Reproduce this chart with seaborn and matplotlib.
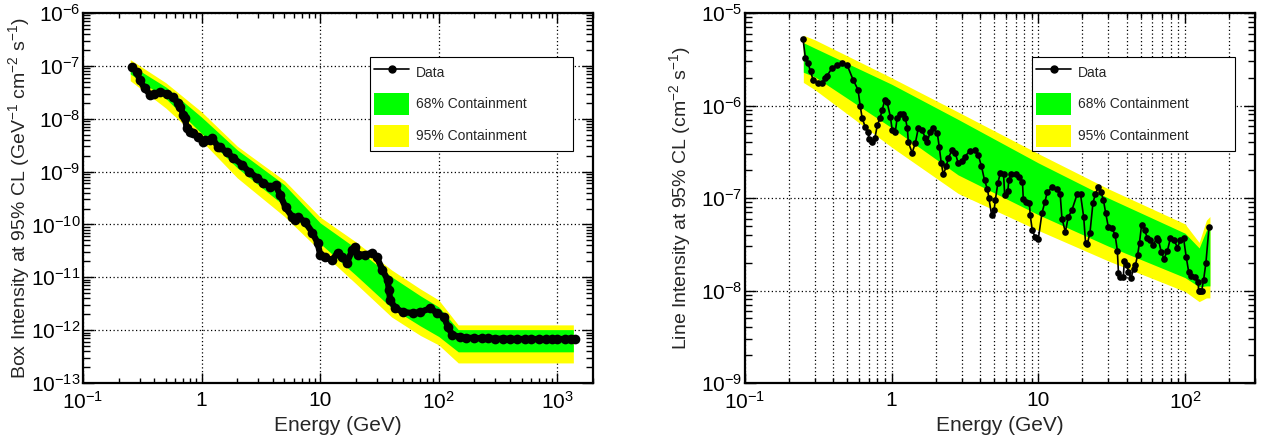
import numpy as np
import pandas as pd
import matplotlib
matplotlib.use("Agg")
import matplotlib.pyplot as plt
import seaborn as sns
from matplotlib.ticker import (LogLocator, NullFormatter, FixedLocator, FixedFormatter,
                               LogFormatterSciNotation)
from matplotlib.lines import Line2D
from matplotlib.patches import Patch

# ---- box search (left panel) ----
box_energy = [0.259, 0.285, 0.30, 0.33, 0.37, 0.40, 0.45, 0.51, 0.57, 0.63, 0.66, 0.70, 0.72,
              0.75, 0.80, 0.85, 0.93, 1.03, 1.07, 1.18, 1.23, 1.38, 1.43, 1.64, 1.85, 2.2,
              2.5, 2.95, 3.3, 3.8, 4.2, 4.6, 5.1, 5.8, 6.1, 6.5, 7.5, 8.6, 9.5, 10.0, 11.0,
              12.6, 14.0, 15.4, 16.8, 18.7, 19.6, 21.0, 23.9, 27.5, 30.0, 33.5, 37.0, 38.0,
              39.0, 43.0, 50.0, 61.0, 70.0, 85.0, 97.0, 110, 120, 130, 150, 170, 200, 230,
              260, 300, 350, 400, 460, 530, 600, 700, 800, 900, 1000, 1150, 1300, 1400]
box_limit = [9.5e-8, 7.7e-8, 5.4e-8, 3.8e-8, 2.8e-8, 3.0e-8, 3.2e-8, 3.0e-8, 2.6e-8, 2.0e-8,
             1.7e-8, 1.2e-8, 1.05e-8, 6.7e-9, 5.6e-9, 5.4e-9, 4.5e-9, 3.6e-9, 3.9e-9, 3.9e-9,
             4.3e-9, 2.9e-9, 2.9e-9, 2.3e-9, 1.8e-9, 1.35e-9, 1.0e-9, 7.6e-10, 6.1e-10,
             5.1e-10, 5.6e-10, 3.6e-10, 2.1e-10, 1.4e-10, 1.2e-10, 1.4e-10, 1.1e-10, 7.0e-11,
             4.5e-11, 2.7e-11, 2.4e-11, 2.1e-11, 2.9e-11, 2.4e-11, 1.9e-11, 3.3e-11, 3.7e-11,
             2.7e-11, 2.7e-11, 2.9e-11, 2.4e-11, 1.4e-11, 8.9e-12, 5.8e-12, 3.7e-12, 2.6e-12,
             2.2e-12, 2.1e-12, 2.2e-12, 2.6e-12, 2.1e-12, 1.8e-12, 1.15e-12, 8.1e-13, 7.5e-13,
             7.2e-13, 7.1e-13, 7.0e-13, 7.0e-13, 6.9e-13, 6.9e-13, 6.9e-13, 6.8e-13, 6.8e-13,
             6.8e-13, 6.8e-13, 6.8e-13, 6.8e-13, 6.8e-13, 6.8e-13, 6.9e-13, 6.9e-13]

# band edges, log10 of intensity
box_band_energy = [0.25, 0.5, 1, 2, 5, 10, 20, 40, 70, 100, 146, 1365]
box_lo95 = [-7.28, -7.80, -8.42, -9.12, -9.85, -10.50, -11.12, -11.75, -12.10, -12.28, -12.62, -12.62]
box_lo68 = [-7.15, -7.62, -8.28, -8.93, -9.65, -10.36, -10.96, -11.58, -11.92, -12.12, -12.41, -12.41]
box_hi68 = [-6.98, -7.40, -7.97, -8.59, -9.25, -9.97, -10.45, -10.99, -11.35, -11.56, -11.99, -11.99]
box_hi95 = [-6.88, -7.32, -7.87, -8.52, -9.17, -9.86, -10.33, -10.86, -11.22, -11.43, -11.90, -11.90]

# ---- line search (right panel) ----
line_energy = [0.249, 0.258, 0.268, 0.280, 0.291, 0.315, 0.335, 0.352, 0.363, 0.393, 0.425,
               0.459, 0.497, 0.546, 0.59, 0.61, 0.63, 0.66, 0.69, 0.70, 0.74, 0.77, 0.80,
               0.835, 0.86, 0.90, 0.93, 0.98, 1.01, 1.06, 1.09, 1.14, 1.20, 1.24, 1.28, 1.30,
               1.38, 1.45, 1.52, 1.62, 1.69, 1.75, 1.83, 1.92, 2.05, 2.11, 2.18, 2.25, 2.36,
               2.43, 2.59, 2.71, 2.84, 3.0, 3.15, 3.4, 3.7, 3.9, 4.1, 4.3, 4.5, 4.6, 4.8, 5.0,
               5.1, 5.3, 5.5, 5.8, 5.9, 6.2, 6.3, 6.5, 7.0, 7.4, 7.8, 7.9, 8.3, 8.7, 8.8, 9.1,
               9.5, 10.0, 10.6, 11.1, 11.5, 12.4, 13.4, 14.1, 14.5, 15.3, 16.0, 17.0, 18.4,
               19.4, 20.4, 21.0, 21.6, 22.5, 23.6, 24.5, 25.6, 26.8, 27.8, 28.8, 30.0, 31.8,
               33.4, 34.6, 35.2, 36.3, 38.0, 38.6, 40.4, 41.0, 42.9, 44.6, 46.0, 47.5, 49.0,
               50.6, 53.0, 55.5, 58.0, 61.0, 64.0, 66.0, 69.0, 72.0, 76.0, 79.6, 84.6, 88.8,
               93.0, 97.8, 102, 106, 110, 117, 123, 124, 126, 130, 134, 139, 146]
line_limit = [5.2e-6, 3.3e-6, 2.9e-6, 2.35e-6, 1.9e-6, 1.75e-6, 1.75e-6, 2.0e-6, 2.1e-6,
              2.55e-6, 2.75e-6, 2.9e-6, 2.75e-6, 1.9e-6, 1.48e-6, 1.0e-6, 7.3e-7, 5.9e-7,
              5.2e-7, 4.3e-7, 4.0e-7, 4.5e-7, 6.2e-7, 7.3e-7, 8.9e-7, 1.15e-6, 1.1e-6, 7.6e-7,
              5.4e-7, 5.2e-7, 7.3e-7, 8.0e-7, 8.0e-7, 7.3e-7, 5.7e-7, 4.0e-7, 3.1e-7, 3.9e-7,
              5.7e-7, 5.4e-7, 4.5e-7, 4.0e-7, 5.2e-7, 5.7e-7, 5.0e-7, 3.6e-7, 2.4e-7, 1.8e-7,
              2.2e-7, 2.7e-7, 3.3e-7, 3.1e-7, 2.4e-7, 2.5e-7, 2.8e-7, 3.2e-7, 3.3e-7, 2.9e-7,
              2.2e-7, 1.56e-7, 1.25e-7, 1.0e-7, 6.6e-8, 7.5e-8, 9.6e-8, 1.45e-7, 1.85e-7,
              1.8e-7, 1.07e-7, 1.2e-7, 1.56e-7, 1.8e-7, 1.8e-7, 1.7e-7, 1.5e-7, 9.8e-8, 9.1e-8,
              8.9e-8, 6.6e-8, 4.5e-8, 3.8e-8, 3.6e-8, 6.9e-8, 9.1e-8, 1.15e-7, 1.3e-7, 1.25e-7,
              1.1e-7, 6.0e-8, 4.3e-8, 6.2e-8, 7.5e-8, 1.1e-7, 1.1e-7, 6.2e-8, 3.3e-8, 3.2e-8,
              4.2e-8, 8.9e-8, 1.1e-7, 1.3e-7, 1.15e-7, 9.5e-8, 6.9e-8, 4.9e-8, 4.7e-8, 4.0e-8,
              2.7e-8, 1.55e-8, 1.4e-8, 1.4e-8, 2.1e-8, 1.9e-8, 1.6e-8, 1.37e-8, 1.7e-8, 1.9e-8,
              2.4e-8, 3.3e-8, 5.1e-8, 4.5e-8, 3.7e-8, 3.5e-8, 3.1e-8, 3.7e-8, 3.5e-8, 2.6e-8,
              2.2e-8, 2.7e-8, 3.7e-8, 3.5e-8, 2.9e-8, 3.5e-8, 3.7e-8, 2.3e-8, 1.6e-8, 1.45e-8,
              1.4e-8, 1.23e-8, 1.0e-8, 9.8e-9, 1.0e-8, 1.3e-8, 2.0e-8, 4.9e-8]

line_band_energy = [0.25, 0.3, 1, 2.84, 10, 30, 100, 125, 140, 148]
line_lo95 = [-5.75, -5.83, -6.45, -6.95, -7.35, -7.68, -8.01, -8.12, -8.08, -8.08]
line_lo68 = [-5.64, -5.69, -6.24, -6.75, -7.18, -7.52, -7.86, -7.96, -7.95, -7.95]
line_hi68 = [-5.32, -5.38, -5.77, -6.15, -6.62, -7.00, -7.38, -7.54, -7.35, -7.30]
line_hi95 = [-5.24, -5.29, -5.70, -6.07, -6.52, -6.90, -7.28, -7.48, -7.24, -7.20]

box_xticks = [0.1, 1, 10, 100, 1000]
box_xticklabels = ["$10^{-1}$", "1", "10", "$10^{2}$", "$10^{3}$"]
box_yticks = [1e-13, 1e-12, 1e-11, 1e-10, 1e-9, 1e-8, 1e-7, 1e-6]
line_xticks = [0.1, 1, 10, 100]
line_xticklabels = ["$10^{-1}$", "1", "10", "$10^{2}$"]
line_yticks = [1e-9, 1e-8, 1e-7, 1e-6, 1e-5]

sns.set_style("ticks")
plt.rcParams["font.family"] = ["Liberation Sans", "DejaVu Sans"]
plt.rcParams["mathtext.default"] = "regular"

GREEN = "#00ff00"
YELLOW = "#ffff00"


def draw_panel(ax, energy, limit, band_e, lo95, lo68, hi68, hi95,
               xlim, ylim, xticks, xticklabels, yticks, ylabel, ms, lw, minor_xgrid):
    band_e = np.array(band_e)
    ax.fill_between(band_e, np.power(10.0, lo95), np.power(10.0, hi95),
                    color=YELLOW, lw=0, zorder=1)
    ax.fill_between(band_e, np.power(10.0, lo68), np.power(10.0, hi68),
                    color=GREEN, lw=0, zorder=2)
    df = pd.DataFrame({"energy": energy, "limit": limit})
    sns.lineplot(data=df, x="energy", y="limit", ax=ax, color="black",
                 marker="o", markersize=ms, markeredgewidth=0, linewidth=lw,
                 estimator=None, zorder=4)
    ax.set_xscale("log")
    ax.set_yscale("log")
    ax.set_xlim(*xlim)
    ax.set_ylim(*ylim)

    ax.xaxis.set_major_locator(FixedLocator(xticks))
    ax.xaxis.set_major_formatter(FixedFormatter(xticklabels))
    ax.xaxis.set_minor_locator(LogLocator(base=10, subs=np.arange(2, 10), numticks=20))
    ax.xaxis.set_minor_formatter(NullFormatter())
    ax.yaxis.set_major_locator(FixedLocator(yticks))
    ax.yaxis.set_major_formatter(LogFormatterSciNotation())
    ax.yaxis.set_minor_locator(LogLocator(base=10, subs=np.arange(2, 10), numticks=20))
    ax.yaxis.set_minor_formatter(NullFormatter())

    ax.tick_params(which="both", direction="in", top=True, right=True,
                   width=1.0, colors="black", labelsize=15)
    ax.tick_params(axis="x", which="major", length=7, pad=6)
    ax.tick_params(axis="x", which="minor", length=3.5)
    ax.tick_params(axis="y", which="major", length=8, pad=2)
    ax.tick_params(axis="y", which="minor", length=5)

    ax.grid(which="major", color="black", linestyle=(0, (1, 2)), linewidth=0.9, zorder=0)
    if minor_xgrid:
        ax.grid(which="minor", axis="x", color="black", linestyle=(0, (1, 2)),
                linewidth=0.9, zorder=0)
    ax.set_axisbelow(True)
    for sp in ax.spines.values():
        sp.set_linewidth(1.6)
        sp.set_color("black")

    ax.set_xlabel("Energy (GeV)", fontsize=15, labelpad=2)
    ax.set_ylabel(ylabel, fontsize=14.0)
    ax.yaxis.set_label_coords(-0.101, 0.5)

    handles = [Line2D([], [], color="black", marker="o", markersize=5, lw=1.2),
               Patch(facecolor=GREEN, edgecolor="none"),
               Patch(facecolor=YELLOW, edgecolor="none")]
    leg = ax.legend(handles, ["Data", "68% Containment", "95% Containment"],
                    loc="upper left", bbox_to_anchor=(0.563, 0.881, 0.398, 0.0),
                    mode="expand", fontsize=10, fancybox=False, framealpha=1,
                    edgecolor="black", handlelength=2.5, handleheight=2.05,
                    handletextpad=0.5, labelspacing=0.72, borderpad=0.3,
                    borderaxespad=0)
    leg.get_frame().set_linewidth(0.8)
    leg.set_zorder(10)


fig = plt.figure(figsize=(12.62, 4.43), dpi=100)
ax1 = fig.add_axes([0.0658, 0.1354, 0.4041, 0.8352])
ax2 = fig.add_axes([0.5903, 0.1354, 0.4041, 0.8352])

draw_panel(ax1, box_energy, box_limit, box_band_energy, box_lo95, box_lo68,
           box_hi68, box_hi95, (0.1, 2000), (1e-13, 1e-6), box_xticks, box_xticklabels,
           box_yticks, "Box Intensity at 95% CL (GeV$^{-1}$ cm$^{-2}$ s$^{-1}$)",
           7.0, 4.5, False)
draw_panel(ax2, line_energy, line_limit, line_band_energy, line_lo95, line_lo68,
           line_hi68, line_hi95, (0.1, 300), (1e-9, 1e-5), line_xticks, line_xticklabels,
           line_yticks, "Line Intensity at 95% CL (cm$^{-2}$ s$^{-1}$)", 4.8, 1.2, True)

fig.savefig("out.png", dpi=100)
